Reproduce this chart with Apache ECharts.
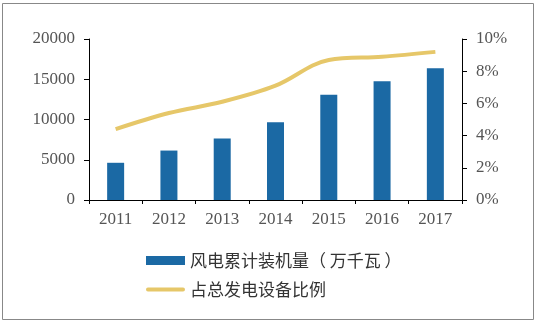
<!DOCTYPE html>
<html><head><meta charset="utf-8">
<script src="https://cdn.jsdelivr.net/npm/echarts@6/dist/echarts.min.js"></script>
<style>html,body{margin:0;padding:0;background:#fff}#c{width:536px;height:323px}</style>
</head><body><div id="c"></div>
<script>
var years = ['2011','2012','2013','2014','2015','2016','2017'];
var capacity = [4623, 6142, 7652, 9657, 13075, 14747, 16367];
var share = [4.4, 5.4, 6.1, 7.1, 8.7, 8.9, 9.2];
var barName = '风电累计装机量（ 万千瓦 ）';
var lineName = '占总发电设备比例';

var chart = echarts.init(document.getElementById('c'));
var serif = '"Liberation Serif","DejaVu Serif",serif';
var labelColor = '#555';
chart.setOption({
  animation: false,
  backgroundColor: '#fff',
  graphic: [{type:'rect', shape:{x:2.5,y:3.5,width:531,height:316}, style:{fill:'none', stroke:'#888', lineWidth:1}}],
  grid: {left: 89, right: 74, top: 39, bottom: 123},
  legend: {
    orient: 'vertical', left: 141, top: 247, itemGap: 12,
    itemWidth: 39, itemHeight: 9,
    textStyle: {fontSize: 17, color: '#333', fontFamily: '"Noto Sans CJK SC"'},
    data: [{name: barName, icon: 'rect'},
           {name: lineName, icon: 'path://M0,0 L0,0 Z M1.5,2.5 L37.5,2.5 A2,2 0 0 1 37.5,6.5 L1.5,6.5 A2,2 0 0 1 1.5,2.5 Z M39,9 L39,9 Z'}]
  },
  xAxis: {
    type: 'category', data: years,
    axisLine: {lineStyle: {color: '#000', width: 1}},
    axisTick: {show: true, length: 4, lineStyle: {color:'#000'}},
    axisLabel: {color: labelColor, fontSize: 17, fontFamily: serif, margin: 11, interval: 0}
  },
  yAxis: [{
    type: 'value', min: 0, max: 20000, interval: 5000,
    splitLine: {show: false},
    axisLine: {show: true, lineStyle: {color: '#000'}},
    axisTick: {show: true, length: 5, lineStyle: {color:'#000'}},
    axisLabel: {color: labelColor, fontSize: 17, fontFamily: serif, margin: 14, formatter: function(v){return String(v);}}
  }, {
    type: 'value', min: 0, max: 10, interval: 2,
    splitLine: {show: false},
    axisLine: {show: true, lineStyle: {color: '#000'}},
    axisTick: {show: true, length: 5, lineStyle: {color:'#000'}},
    axisLabel: {color: labelColor, fontSize: 17, fontFamily: serif, margin: 14, formatter: '{value}%'}
  }],
  series: [{
    name: barName, type: 'bar', data: capacity, barWidth: 17,
    itemStyle: {color: '#1B69A4'}
  }, {
    name: lineName, type: 'line', yAxisIndex: 1, data: share, smooth: 0.35,
    symbol: 'none', lineStyle: {color: '#E6C769', width: 4},
    itemStyle: {color: '#E6C769'}
  }]
});
</script></body></html>
